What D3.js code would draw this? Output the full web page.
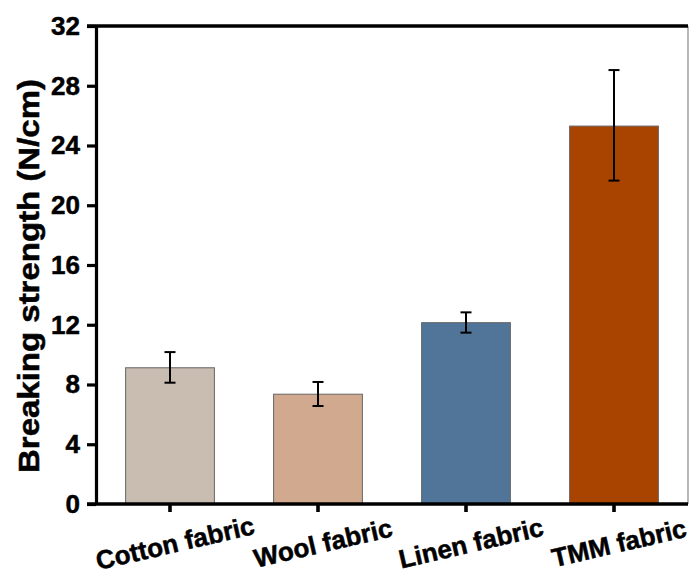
<!DOCTYPE html>
<html>
<head>
<meta charset="utf-8">
<script src="https://cdn.jsdelivr.net/npm/d3@7"></script>
<style>
  body { margin: 0; background: #fff; }
  text { font-family: "Liberation Sans", Arial, sans-serif; font-weight: bold; fill: #000; }
</style>
</head>
<body>
<div id="chart"></div>
<script>
// chart data
const categories = ['Cotton fabric', 'Wool fabric', 'Linen fabric', 'TMM fabric'];
const values = [9.12, 7.35, 12.14, 25.3];
const errLow = [8.12, 6.56, 11.47, 21.65];
const errHigh = [10.17, 8.17, 12.83, 29.05];
const barColors = ['#c9bcb0', '#d1a98f', '#517598', '#a84400'];
const yTicks = [0, 4, 8, 12, 16, 20, 24, 28, 32];

const width = 692;
const height = 576;
const margin = { top: 26, right: 4, bottom: 72, left: 96 };

const svg = d3.select('#chart')
  .append('svg')
  .attr('width', width)
  .attr('height', height);

const x = d3.scaleBand()
  .domain(categories)
  .range([margin.left, width - margin.right])
  .paddingInner(0.4)
  .paddingOuter(0.2);

const y = d3.scaleLinear()
  .domain([0, 32])
  .range([height - margin.bottom, margin.top]);

// right border (thin)
svg.append('line')
  .attr('x1', width - margin.right).attr('x2', width - margin.right)
  .attr('y1', margin.top).attr('y2', height - margin.bottom)
  .attr('stroke', '#888').attr('stroke-width', '1.2');

// bars
svg.selectAll('.bar')
  .data(values)
  .enter().append('rect')
  .attr('class', 'bar')
  .attr('x', (d, i) => x(categories[i]))
  .attr('y', d => y(d))
  .attr('width', x.bandwidth())
  .attr('height', d => y(0) - y(d))
  .attr('fill', (d, i) => barColors[i])
  .attr('stroke', '#666')
  .attr('stroke-width', 1);

// error bars
const cx = i => x(categories[i]) + x.bandwidth() / 2;
const cap = 5.5;
const err = svg.append('g').attr('stroke', '#000').attr('stroke-width', '2');
categories.forEach((c, i) => {
  err.append('line').attr('x1', cx(i)).attr('x2', cx(i)).attr('y1', y(errLow[i])).attr('y2', y(errHigh[i]));
  err.append('line').attr('x1', cx(i) - cap).attr('x2', cx(i) + cap).attr('y1', y(errLow[i])).attr('y2', y(errLow[i]));
  err.append('line').attr('x1', cx(i) - cap).attr('x2', cx(i) + cap).attr('y1', y(errHigh[i])).attr('y2', y(errHigh[i]));
});

// y axis
const yAxis = svg.append('g')
  .attr('transform', `translate(${margin.left},0)`)
  .call(d3.axisLeft(y).tickValues(yTicks).tickSize(9).tickPadding(7).tickSizeOuter(0));
yAxis.selectAll('path, line').attr('stroke', '#000').attr('stroke-width', '3.2');
yAxis.selectAll('text')
  .attr('font-family', null)
  .style('font-size', '26px')
  .attr('stroke', '#000').attr('stroke-width', '0.5');

// top border
svg.append('line')
  .attr('x1', margin.left - 9).attr('x2', width - margin.right)
  .attr('y1', y(32)).attr('y2', y(32))
  .attr('stroke', '#000').attr('stroke-width', '3.6');

// x axis
const xAxis = svg.append('g')
  .attr('transform', `translate(0,${height - margin.bottom})`)
  .call(d3.axisBottom(x).tickSize(8).tickSizeOuter(0));
xAxis.select('.domain').attr('d', `M${margin.left - 9},0H${width - margin.right}`);
xAxis.selectAll('path, line').attr('stroke', '#000').attr('stroke-width', '3.6');
xAxis.selectAll('text')
  .attr('font-family', null)
  .style('font-size', '26px')
  .attr('stroke', '#000').attr('stroke-width', '0.5')
  .attr('text-anchor', 'middle')
  .attr('y', 0).attr('dy', '0.35em')
  .attr('transform', 'translate(5,39) rotate(-13)');

// y label
svg.append('text')
  .attr('transform', `translate(28,${(margin.top + height - margin.bottom) / 2 + 11}) rotate(-90)`)
  .attr('text-anchor', 'middle')
  .attr('dy', '0.35em')
  .attr('textLength', 394)
  .attr('lengthAdjust', 'spacingAndGlyphs')
  .attr('stroke', '#000').attr('stroke-width', '0.5')
  .style('font-size', '30px')
  .text('Breaking strength (N/cm)');
</script>
</body>
</html>
